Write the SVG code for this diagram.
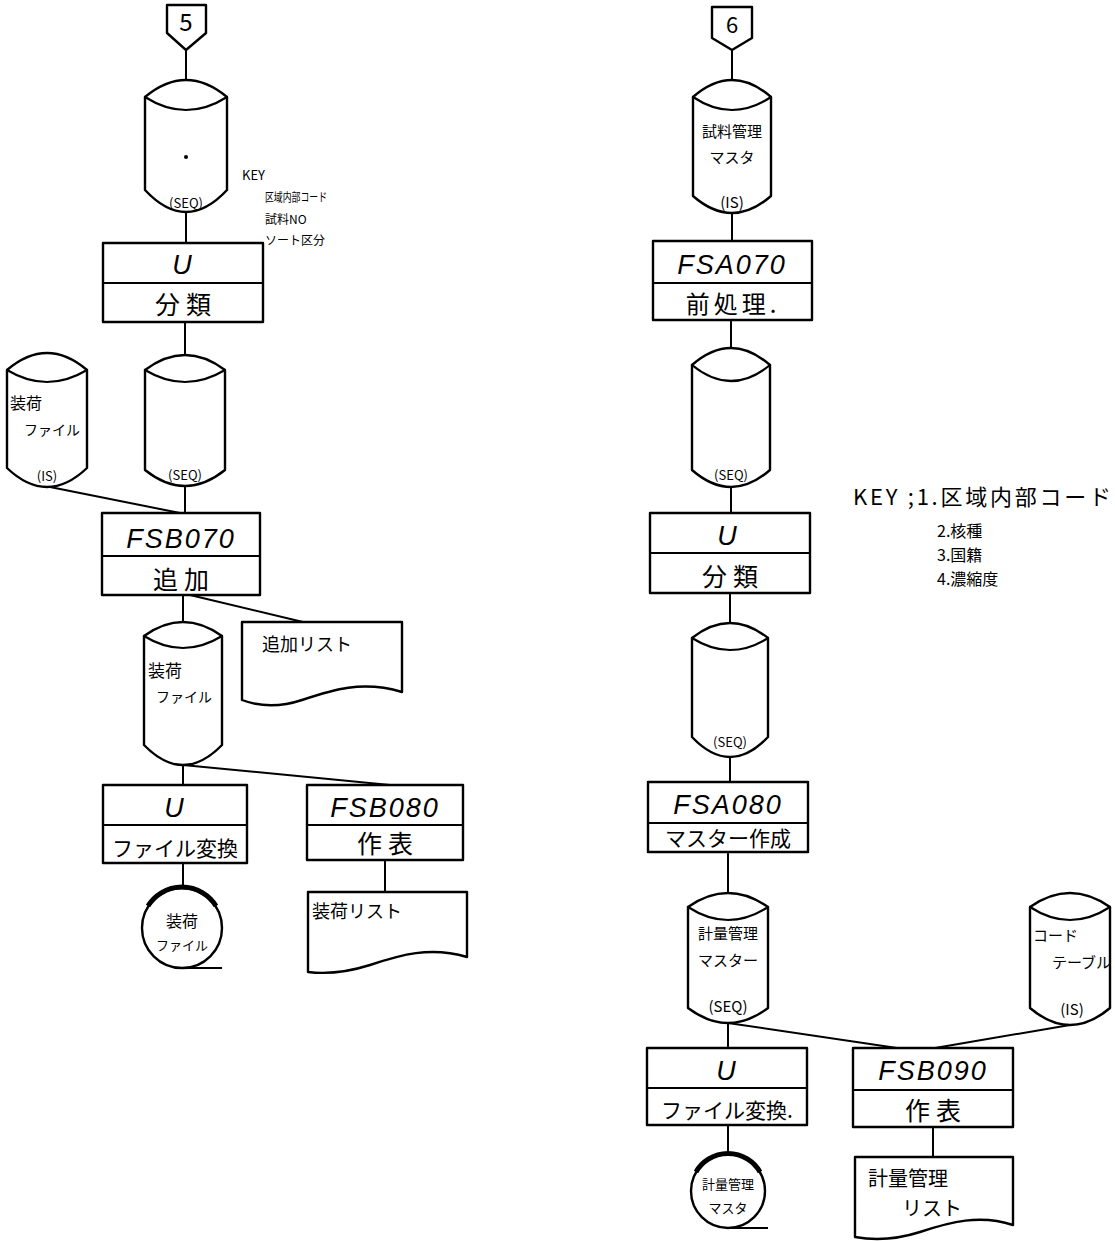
<svg xmlns="http://www.w3.org/2000/svg" width="1115" height="1241" viewBox="0 0 1115 1241">
<style>
.s{fill:none;stroke:#000;stroke-width:2.2;stroke-linecap:round;stroke-linejoin:round}
.b{fill:#fff;stroke:#000;stroke-width:2.4;stroke-linejoin:round}
.c{stroke:#000;stroke-width:2}
.t{font-family:"Noto Sans CJK JP","Liberation Sans",sans-serif;fill:#000;text-anchor:middle}
.l{font-family:"Noto Sans CJK JP","Liberation Sans",sans-serif;fill:#000}
.code{font-family:"Liberation Sans","Noto Sans CJK JP",sans-serif;font-size:27px;letter-spacing:2px;fill:#000;text-anchor:middle;font-style:italic}
.big{font-size:25px;letter-spacing:6px}
.mid{font-size:21px}
.sm{font-size:15px}
.xs{font-size:13px}
</style>
<rect width="1115" height="1241" fill="#fff"/>

<g id="connectors">
<line class="c" x1="186" y1="50" x2="186" y2="80"/>
<line class="c" x1="186" y1="212" x2="186" y2="243"/>
<line class="c" x1="185" y1="322" x2="185" y2="355"/>
<line class="c" x1="185" y1="486" x2="185" y2="513"/>
<line class="c" x1="50" y1="487" x2="180" y2="513"/>
<line class="c" x1="183" y1="595" x2="183" y2="622"/>
<line class="c" x1="190" y1="595" x2="303" y2="622"/>
<line class="c" x1="183" y1="765" x2="183" y2="785"/>
<line class="c" x1="183" y1="765" x2="390" y2="785"/>
<line class="c" x1="183" y1="863" x2="183" y2="889"/>
<line class="c" x1="385" y1="860" x2="385" y2="892"/>
<line class="c" x1="732" y1="50" x2="732" y2="80"/>
<line class="c" x1="732" y1="213" x2="732" y2="241"/>
<line class="c" x1="731" y1="320" x2="731" y2="348"/>
<line class="c" x1="731" y1="487" x2="731" y2="513"/>
<line class="c" x1="730" y1="593" x2="730" y2="623"/>
<line class="c" x1="730" y1="757" x2="730" y2="782"/>
<line class="c" x1="728" y1="852" x2="728" y2="893"/>
<line class="c" x1="728" y1="1023" x2="728" y2="1048"/>
<line class="c" x1="728" y1="1023" x2="897" y2="1048"/>
<line class="c" x1="1070" y1="1025" x2="935" y2="1048"/>
<line class="c" x1="728" y1="1125" x2="728" y2="1155"/>
<line class="c" x1="933" y1="1127" x2="933" y2="1157"/>
</g>

<!-- LEFT COLUMN -->
<g id="offpage5">
<path class="b" d="M167,5 H206 V33 L186,50 L167,33 Z"/>
<text class="l" x="186" y="31" font-size="24" text-anchor="middle" font-family="Liberation Sans">5</text>
</g>

<g id="cyl-l1">
<path class="b" d="M145,97 Q186,63 227,97 V190 Q186,234 145,190 Z"/>
<path class="s" d="M145,97 Q186,123 227,97"/>
<circle cx="186" cy="157" r="2" fill="#000"/>
<text class="t xs" x="186" y="208">(SEQ)</text>
</g>

<g id="key-left">
<text class="l" x="242" y="180" font-size="13" font-family="Liberation Sans">KEY</text>
<text class="l" x="265" y="202" font-size="12" textLength="62" lengthAdjust="spacingAndGlyphs">区域内部コード</text>
<text class="l" x="265" y="224" font-size="12">試料NO</text>
<text class="l" x="265" y="245" font-size="12">ソート区分</text>
</g>

<g id="box-l-u1">
<rect class="b" x="103" y="243" width="160" height="79"/>
<line class="c" x1="103" y1="283" x2="263" y2="283"/>
<text class="code" x="183" y="274">U</text>
<text class="t big" x="186" y="314">分類</text>
</g>

<g id="cyl-l-soka-is">
<path class="b" d="M7,370 Q47,336 87,370 V468 Q47,506 7,468 Z"/>
<path class="s" d="M7,370 Q47,394 87,370"/>
<text class="l" x="10" y="409" font-size="16">装荷</text>
<text class="l" x="24" y="435" font-size="14">ファイル</text>
<text class="t xs" x="47" y="481">(IS)</text>
</g>

<g id="cyl-l2">
<path class="b" d="M145,370 Q185,340 225,370 V470 Q185,502 145,470 Z"/>
<path class="s" d="M145,370 Q185,394 225,370"/>
<text class="t xs" x="185" y="480">(SEQ)</text>
</g>

<g id="box-fsb070">
<rect class="b" x="102" y="513" width="158" height="82"/>
<line class="c" x1="102" y1="556" x2="260" y2="556"/>
<text class="code" x="181" y="548">FSB070</text>
<text class="t big" x="184" y="589">追加</text>
</g>

<g id="doc-tsuika">
<path class="b" d="M242,622 H402 V692 C362,680 332,690 302,700 C278,708 258,706 242,700 Z"/>
<text class="l" x="262" y="651" font-size="18">追加リスト</text>
</g>

<g id="cyl-l3">
<path class="b" d="M144,636 Q183,608 222,636 V745 Q183,785 144,745 Z"/>
<path class="s" d="M144,636 Q183,660 222,636"/>
<text class="l" x="148" y="677" font-size="17">装荷</text>
<text class="l" x="156" y="702" font-size="14">ファイル</text>
</g>

<g id="box-l-u2">
<rect class="b" x="103" y="785" width="144" height="78"/>
<line class="c" x1="103" y1="825" x2="247" y2="825"/>
<text class="code" x="175" y="817">U</text>
<text class="t mid" x="175" y="856">ファイル変換</text>
</g>

<g id="box-fsb080">
<rect class="b" x="307" y="785" width="156" height="75"/>
<line class="c" x1="307" y1="825" x2="463" y2="825"/>
<text class="code" x="385" y="817">FSB080</text>
<text class="t big" x="388" y="853">作表</text>
</g>

<g id="tape-l">
<circle class="b" cx="182" cy="928" r="40"/>
<path d="M148,906 A40,40 0 0 1 216,906" fill="none" stroke="#000" stroke-width="5"/>
<line class="c" x1="182" y1="968" x2="222" y2="968"/>
<text class="t" x="182" y="927" font-size="16">装荷</text>
<text class="t xs" x="182" y="950">ファイル</text>
</g>

<g id="doc-soka">
<path class="b" d="M308,892 H467 V957 C430,946 400,955 370,965 C345,973 325,974 308,972 Z"/>
<text class="l" x="312" y="918" font-size="18">装荷リスト</text>
</g>

<!-- RIGHT COLUMN -->
<g id="offpage6">
<path class="b" d="M712,7 H752 V38 L732,50 L712,38 Z"/>
<text class="l" x="732" y="33" font-size="22" text-anchor="middle" font-family="Liberation Sans">6</text>
</g>

<g id="cyl-r1">
<path class="b" d="M693,97 Q732,63 771,97 V196 Q732,230 693,196 Z"/>
<path class="s" d="M693,97 Q732,123 771,97"/>
<text class="t sm" x="732" y="137">試料管理</text>
<text class="t sm" x="732" y="163">マスタ</text>
<text class="t sm" x="732" y="208">(IS)</text>
</g>

<g id="box-fsa070">
<rect class="b" x="653" y="241" width="159" height="79"/>
<line class="c" x1="653" y1="283" x2="812" y2="283"/>
<text class="code" x="732" y="274">FSA070</text>
<text class="t" x="733" y="313" font-size="24" letter-spacing="4">前処理.</text>
</g>

<g id="cyl-r2">
<path class="b" d="M692,365 Q731,331 770,365 V470 Q731,504 692,470 Z"/>
<path class="s" d="M692,365 Q731,397 770,365"/>
<text class="t xs" x="731" y="480">(SEQ)</text>
</g>

<g id="key-right">
<text class="l" x="853" y="505" font-size="22" textLength="258" lengthAdjust="spacing">KEY ;1.区域内部コード</text>
<text class="l" x="937" y="537" font-size="16">2.核種</text>
<text class="l" x="937" y="561" font-size="16">3.国籍</text>
<text class="l" x="937" y="585" font-size="16">4.濃縮度</text>
</g>

<g id="box-r-u1">
<rect class="b" x="650" y="513" width="160" height="80"/>
<line class="c" x1="650" y1="553" x2="810" y2="553"/>
<text class="code" x="728" y="545">U</text>
<text class="t big" x="733" y="586">分類</text>
</g>

<g id="cyl-r3">
<path class="b" d="M692,638 Q730,608 768,638 V737 Q730,777 692,737 Z"/>
<path class="s" d="M692,638 Q730,662 768,638"/>
<text class="t xs" x="730" y="747">(SEQ)</text>
</g>

<g id="box-fsa080">
<rect class="b" x="648" y="782" width="160" height="70"/>
<line class="c" x1="648" y1="823" x2="808" y2="823"/>
<text class="code" x="728" y="814">FSA080</text>
<text class="t mid" x="728" y="846">マスター作成</text>
</g>

<g id="cyl-r4">
<path class="b" d="M688,907 Q728,879 768,907 V1008 Q728,1038 688,1008 Z"/>
<path class="s" d="M688,907 Q728,933 768,907"/>
<text class="t sm" x="728" y="939">計量管理</text>
<text class="t sm" x="728" y="966">マスター</text>
<text class="t sm" x="728" y="1012">(SEQ)</text>
</g>

<g id="cyl-code-table">
<path class="b" d="M1030,907 Q1070,879 1110,907 V1008 Q1070,1042 1030,1008 Z"/>
<path class="s" d="M1030,907 Q1070,933 1110,907"/>
<text class="l sm" x="1033" y="941">コード</text>
<text class="l sm" x="1052" y="968">テーブル</text>
<text class="t sm" x="1072" y="1015">(IS)</text>
</g>

<g id="box-r-u2">
<rect class="b" x="647" y="1048" width="160" height="77"/>
<line class="c" x1="647" y1="1088" x2="807" y2="1088"/>
<text class="code" x="727" y="1080">U</text>
<text class="t mid" x="727" y="1118">ファイル変換.</text>
</g>

<g id="box-fsb090">
<rect class="b" x="853" y="1048" width="160" height="79"/>
<line class="c" x1="853" y1="1090" x2="1013" y2="1090"/>
<text class="code" x="933" y="1080">FSB090</text>
<text class="t big" x="936" y="1120">作表</text>
</g>

<g id="tape-r">
<circle class="b" cx="728" cy="1191" r="37"/>
<path d="M696,1172 A37,37 0 0 1 760,1172" fill="none" stroke="#000" stroke-width="5"/>
<line class="c" x1="728" y1="1228" x2="768" y2="1228"/>
<text class="t xs" x="728" y="1189">計量管理</text>
<text class="t xs" x="728" y="1213">マスタ</text>
</g>

<g id="doc-keiryo">
<path class="b" d="M855,1157 H1013 V1225 C980,1214 950,1222 920,1232 C895,1240 872,1240 855,1237 Z"/>
<text class="l" x="868" y="1186" font-size="20">計量管理</text>
<text class="l" x="902" y="1216" font-size="20">リスト</text>
</g>
</svg>
